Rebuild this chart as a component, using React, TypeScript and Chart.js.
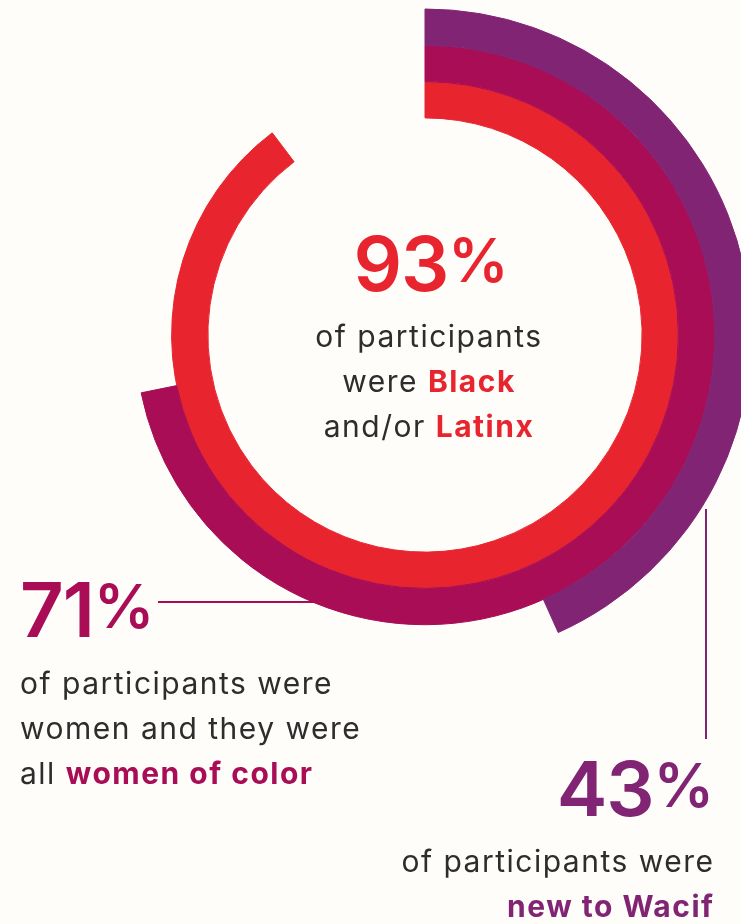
import React, { useEffect, useRef } from "react";
import { Chart, registerables } from "chart.js";

Chart.register(...registerables);

// Data (outer ring to inner ring)
const categories = ["New to Wacif", "Women of color", "Black and/or Latinx"];
const shareLabels = ["43%", "71%", "93%"];
// arc lengths as drawn in the picture (percent of a full turn)
const arcValues = [43.3, 71.8, 89.7];
const ringColors = ["#822474", "#a80d55", "#e8252f"];

const BG = "#fefdfa";
const TEXT = "#2d2d2d";
const FONT = "Inter, 'Noto Sans', sans-serif";

function topFor(baseline: number, size: number) {
  return baseline - 0.969 * size;
}

const bigStyle = (color: string): React.CSSProperties => ({
  fontSize: 76,
  fontWeight: 600,
  color,
  lineHeight: 1.21,
  letterSpacing: -1,
  whiteSpace: "nowrap",
});

const pct: React.CSSProperties = {
  fontSize: 60,
  position: "relative",
  top: -9,
  marginLeft: 0,
  letterSpacing: 0,
};

export default function App() {
  const ref = useRef<HTMLCanvasElement | null>(null);

  useEffect(() => {
    document.body.style.margin = "0";
    document.body.style.background = BG;
    const ctx = ref.current;
    if (!ctx) return;
    const chart = new Chart(ctx, {
      type: "doughnut",
      data: {
        labels: ["share", "rest"],
        datasets: arcValues.map((v, i) => ({
          label: categories[i],
          data: [v, 100 - v],
          backgroundColor: [ringColors[i], "rgba(0,0,0,0)"],
          borderColor: [ringColors[i], "rgba(0,0,0,0)"],
          borderWidth: 1,
          hoverOffset: 0,
        })),
      },
      options: {
        responsive: false,
        animation: false,
        events: [],
        cutout: "66.6%",
        rotation: 0,
        circumference: 360,
        layout: { padding: 8.5 },
        plugins: { legend: { display: false }, tooltip: { enabled: false } },
      },
    });
    return () => chart.destroy();
  }, []);

  const body: React.CSSProperties = {
    position: "absolute",
    fontFamily: FONT,
    fontSize: 30,
    letterSpacing: 1.5,
    lineHeight: "45px",
    color: TEXT,
    whiteSpace: "nowrap",
  };
  const bold = (c: string): React.CSSProperties => ({ color: c, fontWeight: 700 });

  return (
    <div
      style={{
        position: "fixed",
        left: 0,
        top: 0,
        width: 741,
        height: 924,
        overflow: "hidden",
        background: BG,
        fontFamily: FONT,
      }}
    >
      {/* leader lines (under the rings) */}
      <div style={{ position: "absolute", left: 158, top: 601, width: 190, height: 1.5, background: ringColors[1] }} />
      <div style={{ position: "absolute", left: 705, top: 509, width: 1.5, height: 230, background: ringColors[0] }} />

      <canvas
        ref={ref}
        width={850}
        height={670}
        style={{ position: "absolute", left: 0, top: 0, width: 850, height: 670 }}
      />

      {/* centre label */}
      <div style={{ position: "absolute", left: 231, width: 400, textAlign: "center", top: topFor(292, 76), ...bigStyle(ringColors[2]) }}>
        {shareLabels[2].replace("%", "")}
        <span style={pct}>%</span>
      </div>
      <div style={{ ...body, left: 229, width: 400, textAlign: "center", top: 347 - 33.4 }}>
        <div>of participants</div>
        <div>
          were <b style={bold(ringColors[2])}>Black</b>
        </div>
        <div>
          and/or <b style={bold(ringColors[2])}>Latinx</b>
        </div>
      </div>

      {/* left label */}
      <div style={{ position: "absolute", left: 20, top: topFor(638, 76), ...bigStyle(ringColors[1]) }}>
        {shareLabels[1].replace("%", "")}
        <span style={pct}>%</span>
      </div>
      <div style={{ ...body, left: 20, top: 694 - 33.4 }}>
        <div>of participants were</div>
        <div>women and they were</div>
        <div>
          all <b style={bold(ringColors[1])}>women of color</b>
        </div>
      </div>

      {/* bottom-right label */}
      <div style={{ position: "absolute", left: 314, width: 400, textAlign: "right", top: topFor(817, 76), ...bigStyle(ringColors[0]) }}>
        {shareLabels[0].replace("%", "")}
        <span style={pct}>%</span>
      </div>
      <div style={{ ...body, left: 314.5, width: 400, textAlign: "right", top: 872 - 33.4 }}>
        <div>of participants were</div>
        <div>
          <b style={bold(ringColors[0])}>new to Wacif</b>
        </div>
      </div>
    </div>
  );
}
